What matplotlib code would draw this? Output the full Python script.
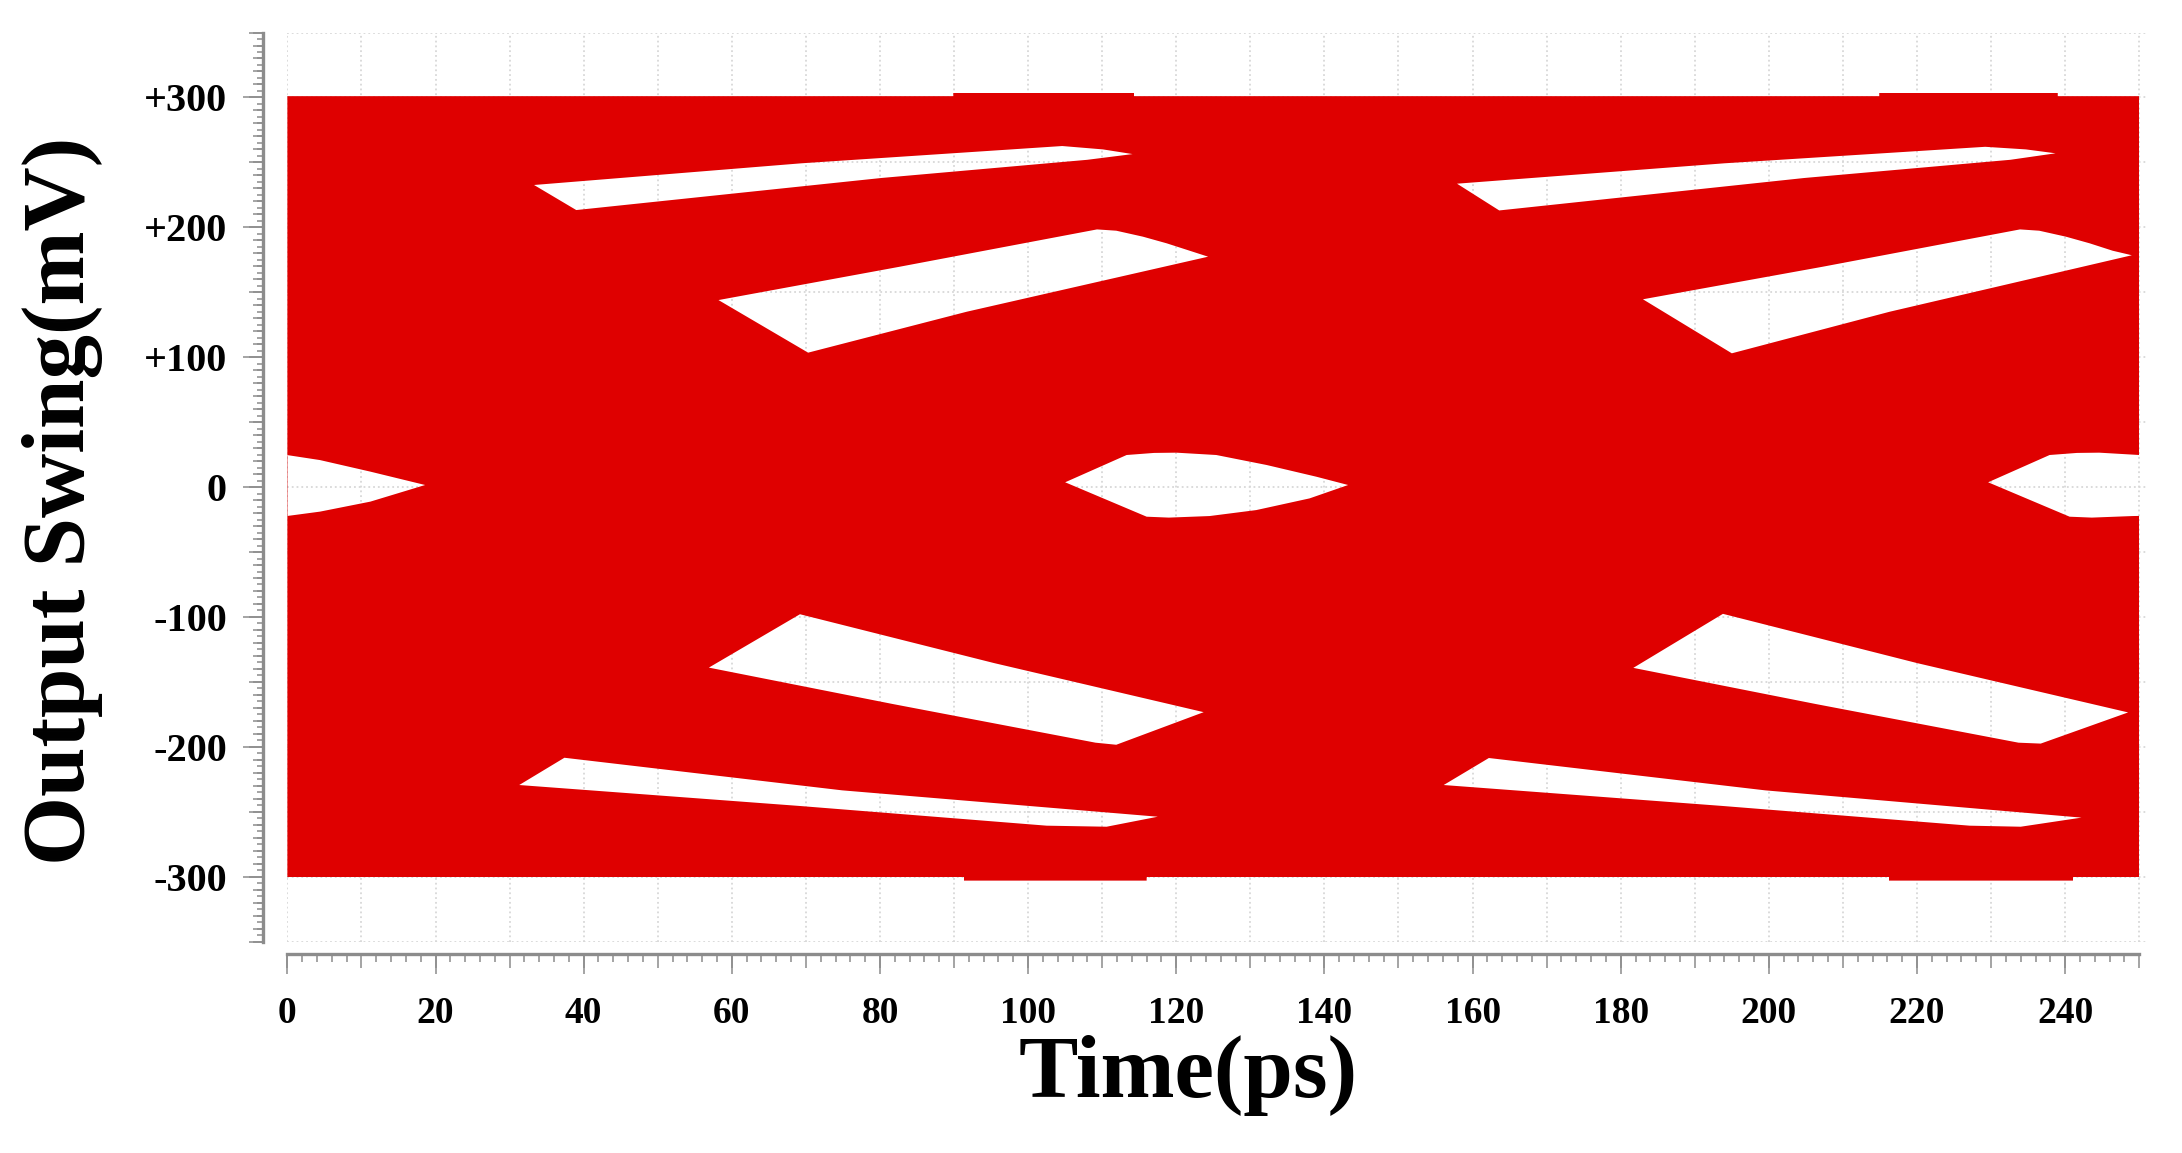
import numpy as np
import matplotlib
matplotlib.use("Agg")
import matplotlib.pyplot as plt
from matplotlib.path import Path
from matplotlib.patches import PathPatch, Polygon
from matplotlib.ticker import MultipleLocator, FuncFormatter

# envelope of the eye (time in ps, swing in mV)
top_t = np.array([0, 89.9, 89.9, 114.3, 114.3, 214.9, 214.9, 239.0, 239.0, 250.0])
top_v = np.array([301, 301, 303.5, 303.5, 301, 301, 303.5, 303.5, 301, 301])
bot_t = np.array([0, 91.3, 91.3, 116.0, 116.0, 216.2, 216.2, 241.1, 241.1, 250.0])
bot_v = np.array([-300.5, -300.5, -303, -303, -300.5, -300.5, -303, -303, -300.5, -300.5])

# openings (outline points, time / mV), first UI
a1_t = [33.3, 39.0, 80.2, 108.0, 114.1, 110.1, 104.6, 69.4]
a1_v = [232.6, 213.3, 238.0, 252.0, 256.4, 260.0, 262.6, 249.3]
b1_t = [58.2, 70.3, 91.7, 124.3, 121.8, 118.7, 115.5, 111.9, 109.3, 82.7]
b1_v = [144.0, 103.5, 135.0, 177.4, 182.0, 187.7, 192.8, 197.4, 198.4, 169.7]
eye1_t = [105.0, 113.3, 117.0, 120.0, 125.4, 132.2, 138.9, 143.2, 138.0, 130.8, 124.5, 119.0, 116.0]
eye1_v = [3.7, 24.7, 26.3, 26.5, 24.7, 17.0, 8.0, 1.6, -8.7, -17.7, -22.3, -23.5, -22.8]
c1_t = [56.9, 69.2, 95.4, 123.7, 111.9, 109.1, 81.7]
c1_v = [-139.0, -97.9, -135.5, -173.3, -198.4, -196.8, -167.0]
d1_t = [31.3, 37.4, 74.9, 117.5, 110.6, 102.5, 69.1]
d1_v = [-229.4, -208.4, -233.5, -253.8, -261.5, -260.7, -245.5]

# second UI
a2_t = [157.9, 163.6, 204.8, 232.6, 238.7, 234.7, 229.2, 194.0]
a2_v = [233.6, 213.0, 238.0, 252.0, 257.0, 260.0, 262.0, 249.3]
b2_t = [183.0, 195.0, 216.3, 249.0, 246.4, 243.3, 240.1, 236.5, 233.9, 207.3]
b2_v = [144.6, 103.0, 135.0, 178.5, 182.0, 187.7, 192.8, 197.4, 198.4, 169.7]
c2_t = [181.7, 193.8, 220.0, 248.5, 236.7, 233.7, 206.3]
c2_v = [-139.2, -97.6, -135.5, -173.5, -197.5, -196.8, -167.0]
d2_t = [156.1, 162.2, 199.5, 242.2, 234.0, 227.1, 193.7]
d2_v = [-229.4, -208.6, -233.5, -254.5, -261.5, -260.7, -245.5]

# half eyes cut by the window edges
eye0_t = [-1.0, 4.4, 11.2, 18.6, 11.2, 4.4, -1.0]
eye0_v = [25.5, 20.8, 11.9, 1.6, -11.2, -18.9, -23.0]
eye2_t = [229.6, 237.9, 241.6, 244.6, 250.0, 252.0, 252.0, 249.1, 243.6, 240.6]
eye2_v = [3.7, 24.7, 26.3, 26.5, 24.7, 24.0, -22.0, -22.3, -23.5, -22.8]

openings = [(a1_t, a1_v), (b1_t, b1_v), (eye1_t, eye1_v), (c1_t, c1_v), (d1_t, d1_v),
            (a2_t, a2_v), (b2_t, b2_v), (c2_t, c2_v), (d2_t, d2_v),
            (eye0_t, eye0_v), (eye2_t, eye2_v)]

x_ticks_major = 10
y_ticks_major = 50

RED = '#df0000'
RULER = '#8c8c8c'

plt.rcParams['font.family'] = 'Liberation Serif'
plt.rcParams['font.weight'] = 'bold'

fig = plt.figure(figsize=(21.82, 11.53), dpi=100)
ax = fig.add_axes([0.1317, 0.1833, 0.8521, 0.7885])
ax.set_xlim(0, 251)
ax.set_ylim(-350, 350)


def ring(t, v, sign):
    pts = np.column_stack([t, v]).astype(float)
    area = 0.5 * np.sum(pts[:, 0] * np.roll(pts[:, 1], -1) - np.roll(pts[:, 0], -1) * pts[:, 1])
    if np.sign(area) != sign:
        pts = pts[::-1]
    return pts


outer = ring(np.concatenate([top_t, bot_t[::-1]]), np.concatenate([top_v, bot_v[::-1]]), 1)
verts, codes = [], []
for pts in [outer] + [ring(t, v, -1) for t, v in openings]:
    verts.extend(pts.tolist() + [pts[0].tolist()])
    codes.extend([Path.MOVETO] + [Path.LINETO] * (len(pts) - 1) + [Path.CLOSEPOLY])

eye = PathPatch(Path(verts, codes), facecolor=RED, edgecolor='none', zorder=2)
ax.add_patch(eye)
eye.set_clip_path(Polygon(outer, closed=True, transform=ax.transData))

# grid + rulers
ax.set_axisbelow(True)
ax.grid(True, which='major', color='#d8d8d8', linestyle=':', linewidth=1.3)
for s in ['top', 'right']:
    ax.spines[s].set_visible(False)
ax.spines['left'].set_position(('outward', 17.6))
ax.spines['bottom'].set_position(('outward', 9))
ax.spines['bottom'].set_bounds(0, 250)
for s in ['left', 'bottom']:
    ax.spines[s].set_color(RULER)
    ax.spines[s].set_linewidth(2.4)

ax.xaxis.set_major_locator(MultipleLocator(x_ticks_major))
ax.xaxis.set_minor_locator(MultipleLocator(2))
ax.yaxis.set_major_locator(MultipleLocator(y_ticks_major))
ax.yaxis.set_minor_locator(MultipleLocator(5))
ax.xaxis.set_major_formatter(FuncFormatter(lambda v, p: f'{v:.0f}' if v % 20 == 0 and v <= 240 else ''))
ax.yaxis.set_major_formatter(FuncFormatter(
    lambda v, p: '' if v % 100 else (f'+{v:.0f}' if v > 0 else f'{v:.0f}')))
ax.tick_params(axis='x', which='major', length=10, width=1.1, color=RULER, labelsize=27, pad=20)
ax.tick_params(axis='x', which='minor', length=5.5, width=1.1, color=RULER)
ax.tick_params(axis='y', which='major', length=10, width=1.1, color=RULER, labelsize=29, pad=16)
ax.tick_params(axis='y', which='minor', length=4, width=1.1, color=RULER)

# long ticks of the rulers
axx = ax.twiny()
axx.set_xlim(ax.get_xlim())
axx.xaxis.set_ticks_position('bottom')
axx.spines['bottom'].set_position(('outward', 9))
for s in axx.spines.values():
    s.set_visible(False)
axx.xaxis.set_major_locator(MultipleLocator(20))
axx.tick_params(axis='x', which='major', length=14.4, width=1.1, color=RULER,
                labelbottom=False, labeltop=False)

axy = ax.twinx()
axy.set_ylim(ax.get_ylim())
axy.yaxis.set_ticks_position('left')
axy.spines['left'].set_position(('outward', 17.6))
for s in axy.spines.values():
    s.set_visible(False)
axy.yaxis.set_major_locator(MultipleLocator(100))
axy.yaxis.set_minor_locator(MultipleLocator(10))
axy.tick_params(axis='y', which='major', length=14.4, width=1.1, color=RULER,
                labelleft=False, labelright=False)
axy.tick_params(axis='y', which='minor', length=7, width=1.1, color=RULER)

fig.text(63 / 2182, 1 - 501 / 1153, 'Output Swing(mV)', rotation=90, fontsize=64,
         fontweight='bold', ha='center', va='center')
fig.text(1188 / 2182, 1 - 1076 / 1153, 'Time(ps)', fontsize=64,
         fontweight='bold', ha='center', va='center')

fig.savefig('out.png', dpi=100)
